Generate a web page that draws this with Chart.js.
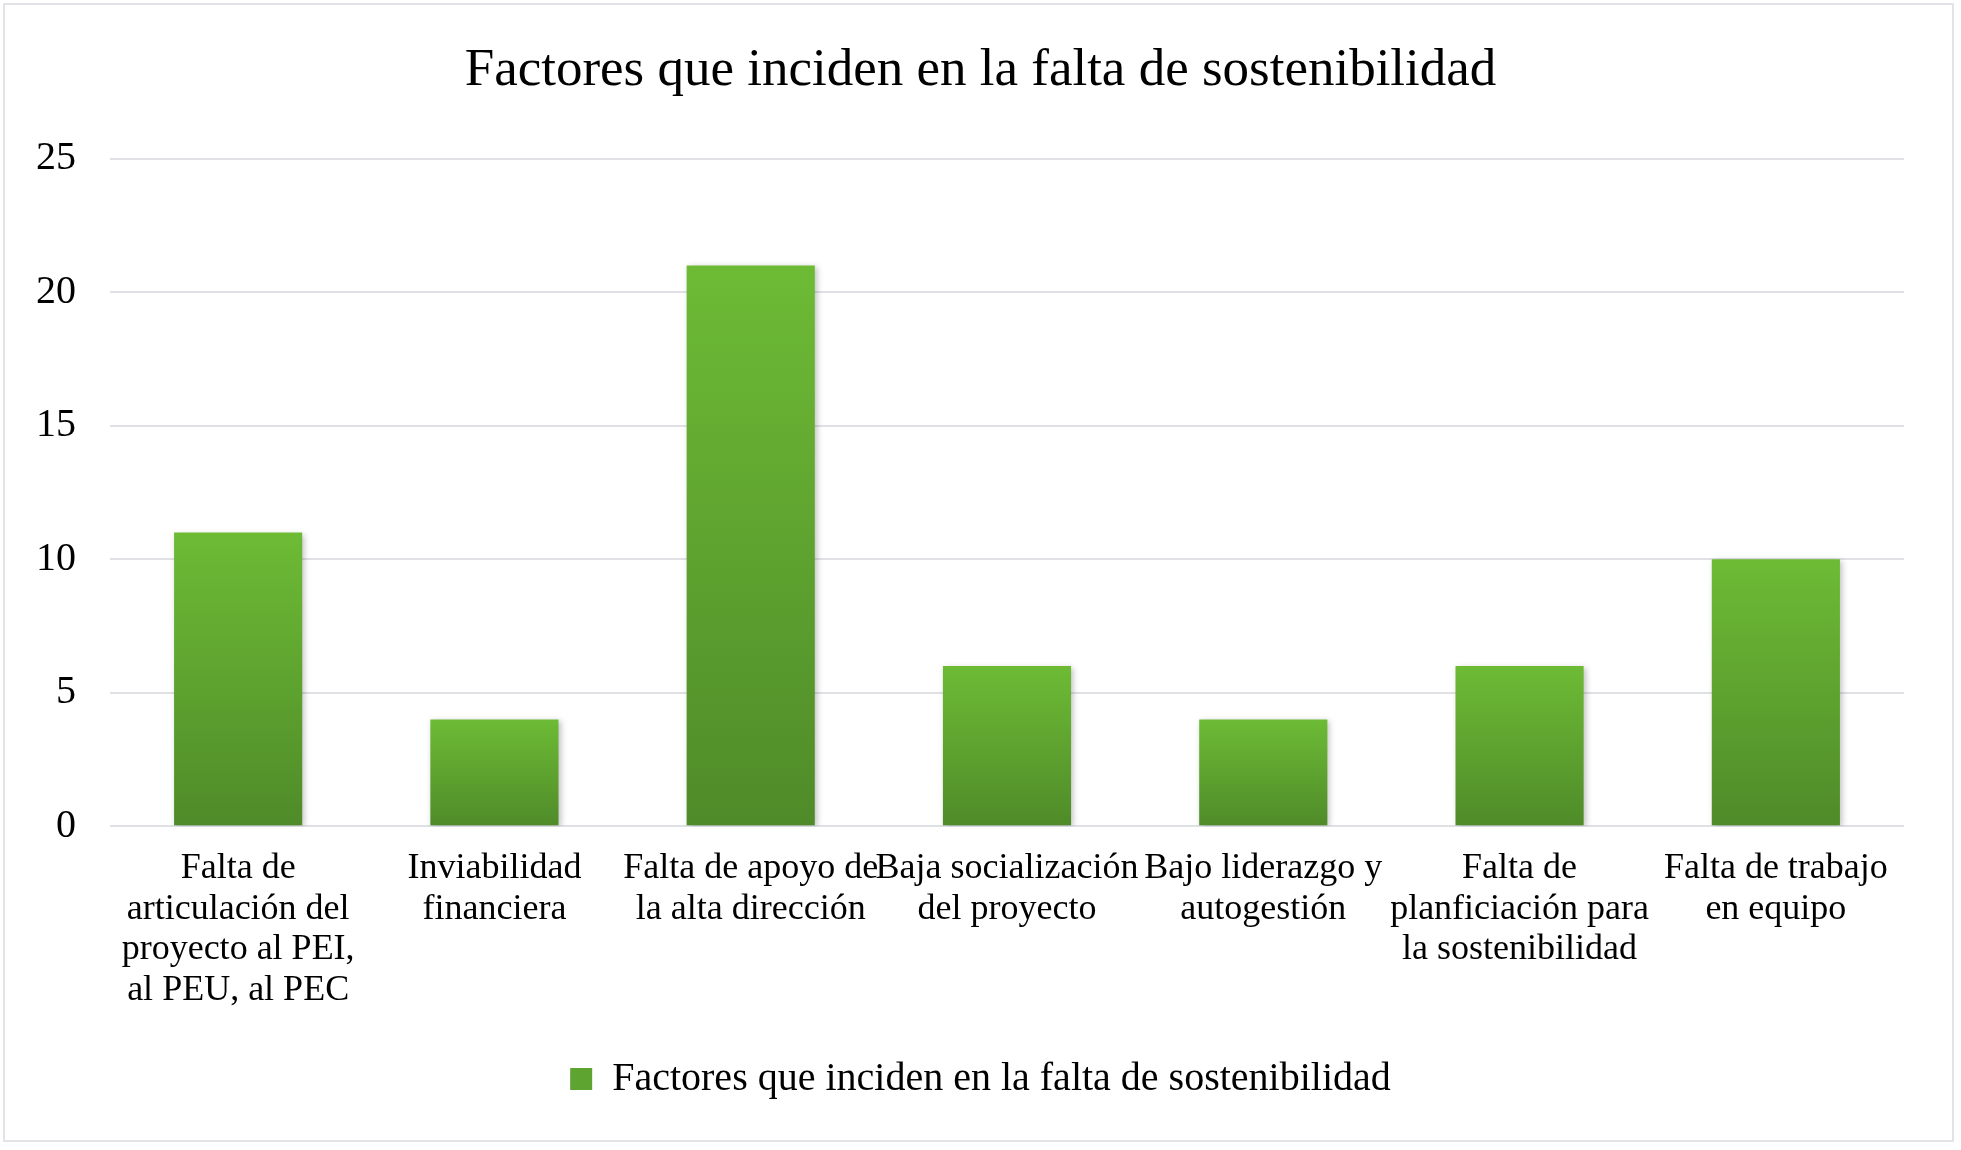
<!DOCTYPE html>
<html>
<head>
<meta charset="utf-8">
<script src="https://cdn.jsdelivr.net/npm/chart.js@4.4.0/dist/chart.umd.min.js"></script>
<style>
  html, body { margin: 0; padding: 0; background: #fff; }
  #wrap {
    position: absolute; left: 3px; top: 3px;
    width: 1951px; height: 1139px;
    border: 2px solid #e1e3e6;
    box-sizing: border-box;
  }
  canvas { display: block; }
</style>
</head>
<body>
<div id="wrap"><canvas id="chart" width="1951" height="1139"></canvas></div>
<script>
const chartTitle = "Factores que inciden en la falta de sostenibilidad";
const seriesName = "Factores que inciden en la falta de sostenibilidad";
const categories = [
  ["Falta de", "articulación del", "proyecto al PEI,", "al PEU, al PEC"],
  ["Inviabilidad", "financiera"],
  ["Falta de apoyo de", "la alta dirección"],
  ["Baja socialización", "del proyecto"],
  ["Bajo liderazgo y", "autogestión"],
  ["Falta de", "planficiación para", "la sostenibilidad"],
  ["Falta de trabajo", "en equipo"]
];
const values = [11, 4, 21, 6, 4, 6, 10];
const yTicks = [0, 5, 10, 15, 20, 25];

const serif = "'Liberation Serif', 'DejaVu Serif', serif";

function barGradient(context) {
  const chart = context.chart;
  const y = chart.scales.y;
  if (!y || context.type !== "data") return "#5ea431";
  const top = y.getPixelForValue(context.raw);
  const bottom = y.getPixelForValue(0);
  if (!isFinite(top) || !isFinite(bottom) || top === bottom) return "#5ea431";
  const g = chart.ctx.createLinearGradient(0, top, 0, bottom);
  g.addColorStop(0, "#6dbb35");
  g.addColorStop(1, "#4f8b29");
  return g;
}

const barShadow = {
  id: "barShadow",
  beforeDatasetsDraw(chart) {
    const ctx = chart.ctx;
    ctx.save();
    ctx.shadowColor = "rgba(0,0,0,0.25)";
    ctx.shadowBlur = 6;
    ctx.shadowOffsetX = 2;
    ctx.shadowOffsetY = 2;
  },
  afterDatasetsDraw(chart) {
    chart.ctx.restore();
  }
};

new Chart(document.getElementById("chart"), {
  type: "bar",
  data: {
    labels: categories,
    datasets: [{
      label: seriesName,
      data: values,
      backgroundColor: barGradient,
      borderWidth: 0,
      categoryPercentage: 1,
      barPercentage: 0.5
    }]
  },
  plugins: [barShadow],
  options: {
    responsive: false,
    animation: false,
    devicePixelRatio: 1,
    layout: { padding: { left: 0, right: 0, top: 0, bottom: 35 } },
    plugins: {
      title: {
        display: true,
        text: chartTitle,
        color: "#000",
        font: { family: serif, size: 53, weight: "normal" },
        padding: { top: 34, bottom: 56 }
      },
      legend: {
        display: true,
        position: "bottom",
        labels: {
          color: "#000",
          font: { family: serif, size: 40 },
          boxWidth: 22,
          boxHeight: 22,
          padding: 10,
          generateLabels(chart) {
            return [{
              text: seriesName,
              fillStyle: "#5ea431",
              strokeStyle: "#5ea431",
              lineWidth: 0,
              datasetIndex: 0,
              fontColor: "#000"
            }];
          }
        }
      },
      tooltip: { enabled: false }
    },
    scales: {
      x: {
        grid: { display: false },
        border: { display: false },
        afterFit(scale) { scale.height += 24; },
        ticks: {
          color: "#000",
          font: { family: serif, size: 36, lineHeight: 1.13 },
          maxRotation: 0,
          autoSkip: false,
          padding: 14
        }
      },
      y: {
        min: 0,
        max: 25,
        afterBuildTicks(scale) {
          scale.ticks = yTicks.map(v => ({ value: v }));
        },
        afterFit(scale) { scale.width = 105; },
        grid: { color: "#dfe1e4", lineWidth: 2, drawTicks: false },
        border: { display: false },
        ticks: {
          color: "#000",
          font: { family: serif, size: 40 },
          padding: 34
        }
      },
      rightGap: {
        position: "right",
        display: true,
        grid: { display: false },
        border: { display: false },
        ticks: { display: false },
        afterFit(scale) { scale.width = 52; }
      }
    }
  }
});
</script>
</body>
</html>
